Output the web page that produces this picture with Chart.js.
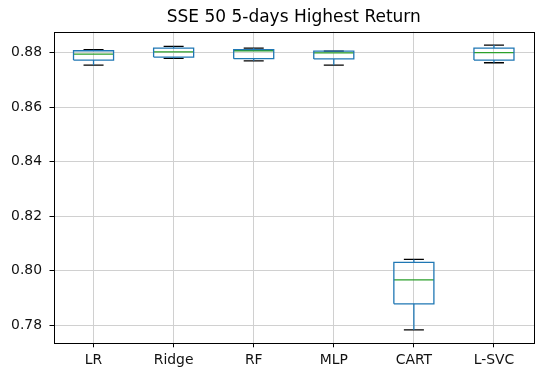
<!DOCTYPE html>
<html>
<head>
<meta charset="utf-8">
<script src="https://cdn.jsdelivr.net/npm/chart.js@4/dist/chart.umd.min.js"></script>
<style>
html,body{margin:0;padding:0;background:#fff;}
canvas{display:block;}
</style>
</head>
<body>
<canvas id="c" width="537" height="372"></canvas>
<script>
const categories = ["LR", "Ridge", "RF", "MLP", "CART", "L-SVC"];
const whiskerLow  = [0.8754, 0.8779, 0.8770, 0.8754, 0.7782, 0.8763];
const q1          = [0.8773, 0.8784, 0.8778, 0.8777, 0.7878, 0.8773];
const median      = [0.8795, 0.8803, 0.8807, 0.8799, 0.7966, 0.8800];
const q3          = [0.8807, 0.8817, 0.8811, 0.8806, 0.8030, 0.8817];
const whiskerHigh = [0.8811, 0.8823, 0.8817, 0.8806, 0.8041, 0.8828];
const yTicks = [0.78, 0.80, 0.82, 0.84, 0.86, 0.88];
const xTicks = [1, 2, 3, 4, 5, 6];

const HALF_BOX = 0.25, HALF_CAP = 0.125;
const gap = x => ({x: x, y: null});
const boxPts = [], whiskPts = [], capPts = [], medPts = [];
categories.forEach((c, i) => {
  const x = xTicks[i];
  boxPts.push({x: x - HALF_BOX, y: q1[i]}, {x: x + HALF_BOX, y: q1[i]},
              {x: x + HALF_BOX, y: q3[i]}, {x: x - HALF_BOX, y: q3[i]},
              {x: x - HALF_BOX, y: q1[i]}, gap(x));
  whiskPts.push({x: x, y: q1[i]}, {x: x, y: whiskerLow[i]}, gap(x),
                {x: x, y: q3[i]}, {x: x, y: whiskerHigh[i]}, gap(x));
  capPts.push({x: x - HALF_CAP, y: whiskerLow[i]}, {x: x + HALF_CAP, y: whiskerLow[i]}, gap(x),
              {x: x - HALF_CAP, y: whiskerHigh[i]}, {x: x + HALF_CAP, y: whiskerHigh[i]}, gap(x));
  medPts.push({x: x - HALF_BOX, y: median[i]}, {x: x + HALF_BOX, y: median[i]}, gap(x));
});

const mk = (data, color) => ({
  data, borderColor: color, borderWidth: 1.3, showLine: true, spanGaps: false,
  pointRadius: 0, pointHoverRadius: 0, fill: false, tension: 0
});

const framePlugin = {
  id: 'frame',
  afterDraw(chart) {
    const a = chart.chartArea, ctx = chart.ctx;
    ctx.save();
    ctx.strokeStyle = '#000';
    ctx.lineWidth = 1;
    ctx.strokeRect(Math.round(a.left) + 0.5, Math.round(a.top) + 0.5,
                   Math.round(a.right - a.left) - 1, Math.round(a.bottom - a.top) - 1);
    ctx.restore();
  }
};

Chart.defaults.font.family = "'DejaVu Sans', sans-serif";
Chart.defaults.color = '#111';

new Chart(document.getElementById('c'), {
  type: 'scatter',
  data: {
    datasets: [
      mk(boxPts, '#1f77b4'),
      mk(whiskPts, '#1f77b4'),
      mk(capPts, '#000000'),
      mk(medPts, '#2ca02c')
    ]
  },
  options: {
    responsive: false,
    animation: false,
    layout: {padding: {left: 0, right: 3, top: 0, bottom: 0}},
    plugins: {
      legend: {display: false},
      tooltip: {enabled: false},
      title: {
        display: true,
        fullSize: false,
        text: 'SSE 50 5-days Highest Return',
        color: '#000',
        font: {size: 17, weight: 'normal'},
        padding: {top: 7, bottom: 4.3}
      }
    },
    scales: {
      x: {
        type: 'linear',
        min: 0.5, max: 6.5,
        afterBuildTicks: s => { s.ticks = xTicks.map(v => ({value: v})); },
        afterFit: s => { s.height = 28.7; },
        ticks: {
          font: {size: 13.9},
          color: '#111',
          padding: 5,
          maxRotation: 0,
          callback: v => categories[v - 1]
        },
        grid: {color: '#d0d0d0', lineWidth: 1, tickColor: '#000', tickLength: 4},
        border: {display: false}
      },
      y: {
        type: 'linear',
        min: 0.7733, max: 0.8877,
        afterBuildTicks: s => { s.ticks = yTicks.map(v => ({value: v})); },
        afterFit: s => { s.width = 53.5; },
        ticks: {
          font: {size: 13.9},
          color: '#111',
          padding: 7.5,
          callback: v => v.toFixed(2)
        },
        grid: {color: '#d0d0d0', lineWidth: 1, tickColor: '#000', tickLength: 4},
        border: {display: false}
      }
    }
  },
  plugins: [framePlugin]
});
</script>
</body>
</html>
